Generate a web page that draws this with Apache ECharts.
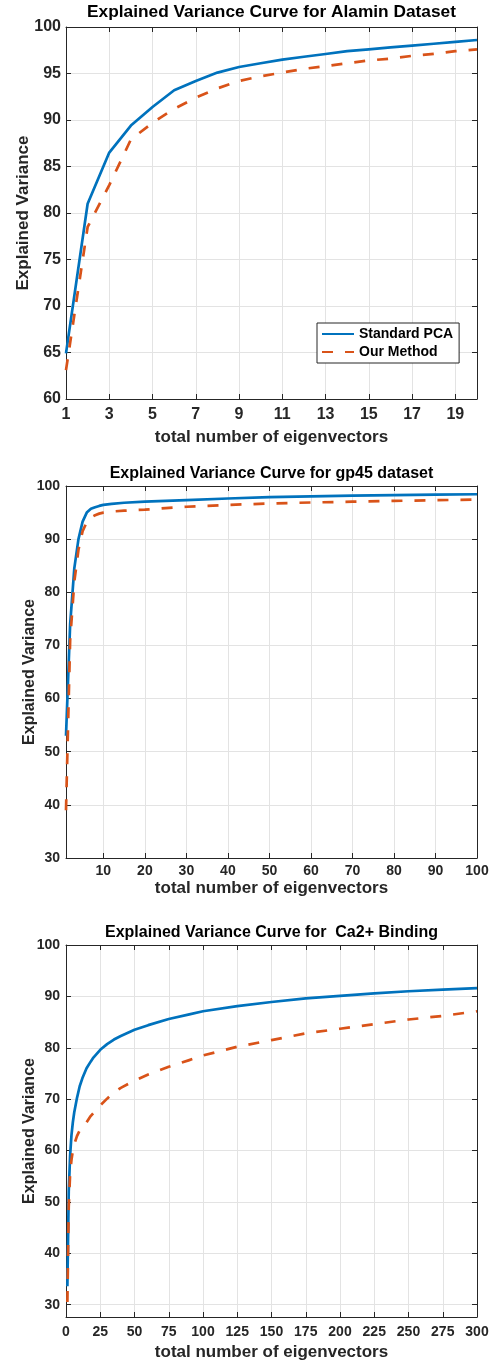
<!DOCTYPE html>
<html>
<head>
<meta charset="utf-8">
<script src="https://cdn.jsdelivr.net/npm/echarts@6/dist/echarts.min.js"></script>
<style>
html,body{margin:0;padding:0;background:#fff;}
#c{width:497px;height:1363px;}
</style>
</head>
<body>
<div id="c"></div>
<script>
// ---- Data ----
const alaminX = [1,2,3,4,5,6,7,8,9,10,11,12,13,14,15,16,17,18,19,20];
const alaminPCA = [64.9,81.0,86.5,89.4,91.4,93.2,94.2,95.1,95.7,96.1,96.5,96.8,97.1,97.4,97.6,97.8,98.0,98.2,98.4,98.6];
const alaminOurs = [63.1,78.5,83.0,87.9,89.7,91.2,92.4,93.4,94.2,94.7,95.1,95.5,95.8,96.1,96.4,96.6,96.9,97.1,97.4,97.6];

const gp45X = [1,2,3,4,5,6,7,8,9,10,12,15,20,25,30,40,50,60,70,80,90,100];
const gp45PCA = [53,74,84.5,90,93.3,95,95.7,96.0,96.25,96.45,96.65,96.85,97.05,97.2,97.35,97.65,97.9,98.05,98.2,98.28,98.38,98.45];
const gp45Ours = [39,71,82,88,91.5,93.2,94.1,94.5,94.8,95.0,95.2,95.35,95.55,95.85,96.1,96.45,96.7,96.9,97.05,97.2,97.33,97.45];

const ca2X = [1,2,3,4,5,6,8,10,12,15,18,20,25,30,35,40,50,60,75,90,100,125,150,175,200,225,250,275,300];
const ca2PCA = [33.6,52,59,63,65.5,67.4,70.2,72.5,74.1,76,77.3,78.1,79.6,80.7,81.6,82.3,83.5,84.4,85.6,86.5,87.1,88.1,88.9,89.6,90.1,90.6,91.0,91.3,91.6];
const ca2Ours = [30.5,49,55.5,58.2,60,61.2,62.8,63.9,64.8,65.5,66.7,67.3,68.8,70.1,71.3,72.2,73.6,74.8,76.3,77.6,78.5,80.2,81.5,82.8,83.7,84.6,85.5,86.2,87.1];

const titles = [
  'Explained Variance Curve for Alamin Dataset',
  'Explained Variance Curve for gp45 dataset',
  'Explained Variance Curve for  Ca2+ Binding'
];
const seriesNames = ['Standard PCA', 'Our Method'];
const xName = 'total number of eigenvectors';
const yName = 'Explained Variance';

// ---- Style ----
const FONT = "'Liberation Sans', Arial, Helvetica, sans-serif";
const AX = '#262626';
const GRID = '#e3e3e3';
const BLUE = '#0072BD';
const ORANGE = '#D95319';
const grids = [
  {left:66, top:27, width:411, height:372},
  {left:66, top:486, width:411, height:372},
  {left:66, top:945, width:411, height:372}
];

function zip(xs, ys){ return xs.map((x,i)=>[x, ys[i]]); }

function baseAxis(gi, pos, labelSize, margin){
  return {
    gridIndex: gi,
    position: pos,
    nameMoveOverlap: false,
    axisLine: {show:true, onZero:false, lineStyle:{color:AX, width:1}},
    axisTick: {show:true, inside:true, length:5, lineStyle:{color:AX}},
    axisLabel: {color:AX, fontFamily:FONT, fontWeight:'bold', fontSize:labelSize, margin:margin},
    splitLine: {show:false, lineStyle:{color:GRID, width:1}}
  };
}

function xAxisPair(gi, cfg, labelSize, margin, nameGap, nameSize){
  const b = Object.assign(baseAxis(gi,'bottom',labelSize,margin), cfg.common);
  b.axisLabel = Object.assign({}, b.axisLabel, cfg.label||{});
  b.axisTick = Object.assign({}, b.axisTick, cfg.tick||{});
  b.splitLine = Object.assign({}, b.splitLine, {show:true}, cfg.split||{});
  b.name = xName; b.nameLocation = 'middle'; b.nameGap = nameGap;
  b.nameTextStyle = {color:AX, fontFamily:FONT, fontWeight:'bold', fontSize:nameSize};
  const t = Object.assign(baseAxis(gi,'top',labelSize,margin), cfg.common);
  t.axisLabel = {show:false};
  t.axisTick = Object.assign({}, t.axisTick, cfg.tick||{});
  return [b, t];
}
function yAxisPair(gi, cfg, labelSize, margin, nameGap, nameSize){
  const l = Object.assign(baseAxis(gi,'left',labelSize,margin), cfg.common);
  l.axisLabel = Object.assign({}, l.axisLabel, cfg.label||{});
  l.splitLine = Object.assign({}, l.splitLine, {show:true});
  l.name = yName; l.nameLocation = 'middle'; l.nameGap = nameGap;
  l.nameTextStyle = {color:AX, fontFamily:FONT, fontWeight:'bold', fontSize:nameSize};
  const r = Object.assign(baseAxis(gi,'right',labelSize,margin), cfg.common);
  r.axisLabel = {show:false};
  return [l, r];
}

const xAxes = [].concat(
  xAxisPair(0, {common:{type:'category', data:alaminX.map(String), boundaryGap:false},
                label:{interval:1}, tick:{interval:1}, split:{interval:1}}, 16, 8, 30, 17),
  xAxisPair(1, {common:{type:'value', min:1, max:100, splitNumber:10},
                label:{showMinLabel:false}}, 14, 6, 22, 17),
  xAxisPair(2, {common:{type:'value', min:0, max:300, interval:25}}, 14, 8, 27, 17)
);
const yAxes = [].concat(
  yAxisPair(0, {common:{type:'value', min:60, max:100, interval:5}}, 16, 5, 34, 17),
  yAxisPair(1, {common:{type:'value', min:30, max:100, interval:10}}, 14, 6, 28, 16),
  yAxisPair(2, {common:{type:'value', min:27.6, max:100, splitNumber:7},
                label:{showMinLabel:false}}, 14, 6, 28, 16)
);

function lineSeries(name, xi, yi, data, color, dashed){
  return {
    name: name, type:'line', xAxisIndex:xi, yAxisIndex:yi, data:data,
    symbol:'none', showSymbol:false, smooth:false,
    lineStyle:{color:color, width:2.7, type: dashed ? [11,12] : 'solid', cap:'butt', join:'round'},
    itemStyle:{color:color},
    z: dashed ? 3 : 2,
    silent:true
  };
}

const series = [
  lineSeries(seriesNames[0], 0, 0, alaminPCA, BLUE, false),
  lineSeries(seriesNames[1], 0, 0, alaminOurs, ORANGE, true),
  lineSeries(seriesNames[0], 2, 2, zip(gp45X, gp45PCA), BLUE, false),
  lineSeries(seriesNames[1], 2, 2, zip(gp45X, gp45Ours), ORANGE, true),
  lineSeries(seriesNames[0], 4, 4, zip(ca2X, ca2PCA), BLUE, false),
  lineSeries(seriesNames[1], 4, 4, zip(ca2X, ca2Ours), ORANGE, true)
];

const titleY = [12, 474, 933];
const titleSize = [17.3, 16, 16];
const graphic = titles.map((t,i)=>({
  type:'text', x:271.5, y:titleY[i], z:10,
  style:{text:t, textAlign:'center', textVerticalAlign:'middle',
         font:'bold '+titleSize[i]+'px '+FONT, fill:'#000'}
}));

const option = {
  animation:false,
  backgroundColor:'#fff',
  grid: grids,
  xAxis: xAxes,
  yAxis: yAxes,
  series: series,
  graphic: graphic,
  legend: {
    data: seriesNames,
    orient:'vertical',
    left:317, top:323,
    itemWidth:32, itemHeight:14, itemGap:4,
    padding:[4,6,4,4],
    backgroundColor:'#fff',
    borderColor:AX, borderWidth:1, borderRadius:0,
    itemStyle:{opacity:0},
    textStyle:{color:'#000', fontFamily:FONT, fontWeight:'bold', fontSize:14},
    selectedMode:false
  }
};

const chart = echarts.init(document.getElementById('c'), null, {renderer:'canvas'});
chart.setOption(option);
</script>
</body>
</html>
